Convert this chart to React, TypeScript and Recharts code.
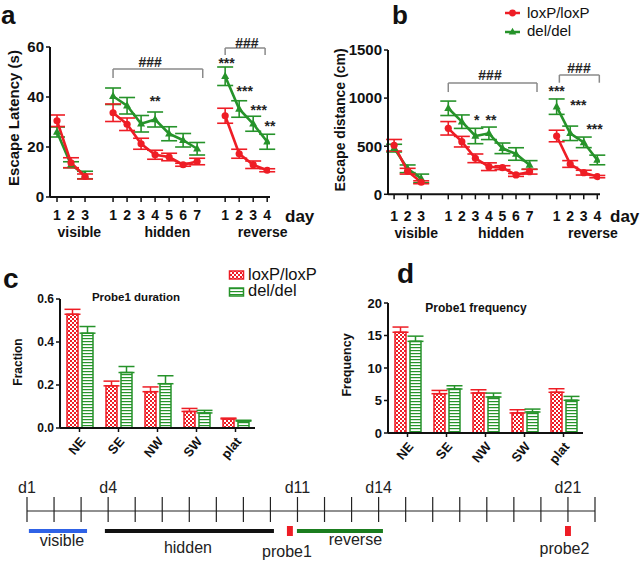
import React from 'react';
import {
  LineChart, Line, BarChart, Bar, ComposedChart, XAxis, YAxis, ErrorBar,
  ReferenceLine, ReferenceDot, ReferenceArea,
} from 'recharts';

const RED = '#ee1d25';
const GREEN = '#26932a';
const INK = '#111';
const GREY = '#8a8a8a';
const FONT = 'Arial, "Liberation Sans", Helvetica, sans-serif';

// water maze phases
const phaseNames = ['visible', 'hidden', 'reverse'];
const phaseDays = [3, 7, 4];

// a: escape latency (s), mean and sem per day
const latencyLox = [30.5, 13.7, 8.2, 33.7, 29.1, 21.3, 16.9, 16, 12.9, 14.2, 32.5, 17.3, 12.9, 10.7];
const latencyLoxSem = [2.3, 2, 1, 3.5, 2.5, 2.2, 1.8, 1.5, 0.6, 1.3, 3, 1.8, 1.5, 0.6];
const latencyDel = [26, 12.9, 8.8, 40.3, 36.5, 29.3, 31, 25.3, 22.7, 19.3, 48.3, 35.2, 29.3, 22.1];
const latencyDelSem = [2, 1.2, 1.5, 3.3, 3.3, 3.3, 3, 2.8, 2.7, 2.5, 3.7, 3.3, 3, 3];

// b: escape distance (cm)
const distanceLox = [510, 240, 125, 686, 547, 374, 287, 277, 201, 235, 606, 315, 225, 184];
const distanceLoxSem = [60, 30, 15, 70, 55, 45, 40, 20, 15, 25, 60, 35, 25, 12];
const distanceDel = [480, 265, 165, 894, 755, 606, 634, 478, 419, 305, 911, 634, 540, 357];
const distanceDelSem = [40, 40, 45, 75, 70, 80, 65, 55, 65, 45, 80, 75, 55, 50];

// c, d: probe 1 by quadrant
const zones = ['NE', 'SE', 'NW', 'SW', 'plat'];
const durationLox = [0.529, 0.196, 0.169, 0.077, 0.042];
const durationLoxSem = [0.023, 0.022, 0.022, 0.014, 0.004];
const durationDel = [0.441, 0.258, 0.206, 0.07, 0.032];
const durationDelSem = [0.031, 0.028, 0.037, 0.012, 0.004];
const frequencyLox = [15.5, 6.05, 6.15, 3.08, 6.26];
const frequencyLoxSem = [0.8, 0.5, 0.5, 0.5, 0.55];
const frequencyDel = [14.1, 6.77, 5.54, 3.23, 5.03];
const frequencyDelSem = [0.8, 0.5, 0.6, 0.45, 0.6];

// schedule
const timelineDays = [1, 2, 3, 4, 5, 6, 7, 8, 9, 10, 11, 12, 13, 14, 15, 16, 17, 18, 19, 20, 21, 22];
const timelineMarked = [1, 4, 11, 14, 21];
const schedulePhases = [
  { name: 'visible', from: 1.07, to: 3.22 },
  { name: 'hidden', from: 3.88, to: 10.13 },
  { name: 'reverse', from: 10.98, to: 14.16 },
];
const probeDays = [{ name: 'probe1', day: 10.72 }, { name: 'probe2', day: 21 }];

const phaseColor: Record<string, string> = { visible: '#2f62e6', hidden: '#111', reverse: '#1b7d1f' };
const labelAt: Record<string, [number, number]> = {
  visible: [2.29, -2.98], hidden: [6.95, -3.63], reverse: [13.14, -2.88],
  probe1: [10.61, -4.03], probe2: [20.87, -3.78],
};

type Row = { x: number; phase: number; day: number | null; lox: number | null; loxErr: number | null; del: number | null; delErr: number | null };

function buildRows(lox: number[], loxErr: number[], del: number[], delErr: number[]): Row[] {
  const rows: Row[] = [];
  let x = 1;
  let i = 0;
  phaseDays.forEach((n, p) => {
    if (p > 0) {
      rows.push({ x, phase: -1, day: null, lox: null, loxErr: null, del: null, delErr: null });
      x += 1;
    }
    for (let d = 1; d <= n; d++) {
      rows.push({ x, phase: p, day: d, lox: lox[i], loxErr: loxErr[i], del: del[i], delErr: delErr[i] });
      x += 1;
      i += 1;
    }
  });
  return rows;
}

const textShape = (value: string, size: number, lift = 0.355, weight: any = 'normal', fill = INK) => (p: any) => (
  <text x={p.cx} y={p.cy} dy={size * lift} textAnchor="middle" fontSize={size} fontWeight={weight} fill={fill}>
    {value}
  </text>
);

const circleDot = (p: any) =>
  p.cy == null || p.value == null ? <g key={`c${p.index}`} /> : <circle key={`c${p.index}`} cx={p.cx} cy={p.cy} r={3.6} fill={RED} />;

const triangleDot = (p: any) =>
  p.cy == null || p.value == null ? (
    <g key={`t${p.index}`} />
  ) : (
    <path key={`t${p.index}`} d={`M${p.cx},${p.cy - 4.5}L${p.cx + 4},${p.cy + 2.8}L${p.cx - 4},${p.cy + 2.8}Z`} fill={GREEN} />
  );

type Bracket = { x1: number; x2: number; y: number; drop: number; lx: number; ly: number };
type Star = { x: number; y: number; text: string };

const axisStyle = { stroke: INK, strokeWidth: 2 };
const tickStyle = { stroke: INK, strokeWidth: 1.5 };

function LinePanel(props: {
  rows: Row[]; yMax: number; yTicks: number[]; yWidth: number; margin: any; xDomain: [number, number];
  tickGap: number; brackets: Bracket[]; stars: Star[];
}) {
  const { rows, yMax, yTicks, yWidth, margin, xDomain, tickGap, brackets, stars } = props;
  const ticks = rows.filter((r) => r.day != null).map((r) => r.x);
  const dayAt: Record<number, number | null> = {};
  rows.forEach((r) => { dayAt[r.x] = r.day; });
  const groupAt = phaseNames.map((_, p) => {
    const xs = rows.filter((r) => r.phase === p).map((r) => r.x);
    return (xs[0] + xs[xs.length - 1]) / 2;
  });
  return (
    <LineChart width={320} height={250} data={rows} margin={margin}>
      <XAxis
        dataKey="x" type="number" domain={xDomain} allowDataOverflow ticks={ticks} interval={0}
        tickFormatter={(v) => String(dayAt[v] ?? '')} height={22} tickSize={5} tickMargin={tickGap}
        axisLine={axisStyle} tickLine={tickStyle} tick={{ fill: INK, fontSize: 14, fontWeight: 700 }}
      />
      <XAxis
        xAxisId="phase" type="number" domain={xDomain} allowDataOverflow ticks={groupAt} interval={0}
        tickFormatter={(v) => phaseNames[groupAt.indexOf(v)] ?? ''} height={20} tickSize={0} tickMargin={tickGap}
        axisLine={false} tickLine={false} tick={{ fill: INK, fontSize: 14, fontWeight: 700 }}
      />
      <YAxis
        type="number" domain={[0, yMax]} allowDataOverflow ticks={yTicks} interval={0} width={yWidth}
        tickSize={4} tickMargin={2} axisLine={axisStyle} tickLine={tickStyle}
        tick={{ fill: INK, fontSize: 15, fontWeight: 700 }}
      />
      {brackets.map((b, k) => (
        <React.Fragment key={`b${k}`}>
          <ReferenceLine segment={[{ x: b.x1, y: b.y }, { x: b.x2, y: b.y }]} stroke={GREY} strokeWidth={1.5} ifOverflow="visible" />
          <ReferenceLine segment={[{ x: b.x1, y: b.y }, { x: b.x1, y: b.drop }]} stroke={GREY} strokeWidth={1.5} ifOverflow="visible" />
          <ReferenceLine segment={[{ x: b.x2, y: b.y }, { x: b.x2, y: b.drop }]} stroke={GREY} strokeWidth={1.5} ifOverflow="visible" />
          <ReferenceDot x={b.lx} y={b.ly} r={0} ifOverflow="visible" shape={textShape('###', 14, 0.36, 700, '#222')} />
        </React.Fragment>
      ))}
      {stars.map((s, k) => (
        <ReferenceDot key={`s${k}`} x={s.x} y={s.y} r={0} ifOverflow="visible" shape={textShape(s.text, 14, 0.58, 700, '#222')} />
      ))}
      <Line dataKey="del" stroke={GREEN} strokeWidth={2.6} dot={triangleDot} activeDot={false} connectNulls={false} isAnimationActive={false}>
        <ErrorBar dataKey="delErr" width={8} stroke={GREEN} strokeWidth={1.6} direction="y" isAnimationActive={false} />
      </Line>
      <Line dataKey="lox" stroke={RED} strokeWidth={2.6} dot={circleDot} activeDot={false} connectNulls={false} isAnimationActive={false}>
        <ErrorBar dataKey="loxErr" width={8} stroke={RED} strokeWidth={1.6} direction="y" isAnimationActive={false} />
      </Line>
    </LineChart>
  );
}

const ZoneTick = (p: any) => (
  <g transform={`translate(${p.x + 3},${p.y + 5})`}>
    <text transform="rotate(-50)" textAnchor="end" dy="0.35em" fontSize={13} fontWeight={700} fill={INK}>
      {p.payload.value}
    </text>
  </g>
);

function BarPanel(props: {
  id: string; lox: number[]; loxErr: number[]; del: number[]; delErr: number[];
  yMax: number; yTicks: number[]; yFmt: (v: number) => string; yWidth: number; margin: any; xHeight: number; yFont: number;
}) {
  const { id, lox, loxErr, del, delErr, yMax, yTicks, yFmt, yWidth, margin, xHeight, yFont } = props;
  const rows = zones.map((z, i) => ({ zone: z, lox: lox[i], loxErr: [0, loxErr[i]], del: del[i], delErr: [0, delErr[i]] }));
  return (
    <BarChart width={320} height={190} data={rows} margin={margin} barSize={11} barGap={4}>
      <defs>
        <pattern id={`chk-${id}`} width={4} height={4} patternUnits="userSpaceOnUse">
          <rect width={4} height={4} fill="#fff" />
          <rect width={2} height={2} fill={RED} />
          <rect x={2} y={2} width={2} height={2} fill={RED} />
        </pattern>
        <pattern id={`str-${id}`} width={4} height={3} patternUnits="userSpaceOnUse">
          <rect width={4} height={3} fill="#fff" />
          <rect width={4} height={1.2} fill={GREEN} />
        </pattern>
      </defs>
      <XAxis dataKey="zone" interval={0} height={xHeight} tickSize={4} axisLine={axisStyle} tickLine={tickStyle} tick={<ZoneTick />} />
      <YAxis
        type="number" domain={[0, yMax]} ticks={yTicks} interval={0} width={yWidth} tickFormatter={yFmt}
        tickSize={4} tickMargin={2} axisLine={axisStyle} tickLine={tickStyle}
        tick={{ fill: INK, fontSize: yFont, fontWeight: 700 }}
      />
      <Bar dataKey="lox" fill={`url(#chk-${id})`} stroke={RED} strokeWidth={1.5} isAnimationActive={false}>
        <ErrorBar dataKey="loxErr" width={8} stroke={RED} strokeWidth={1.5} direction="y" isAnimationActive={false} />
      </Bar>
      <Bar dataKey="del" fill={`url(#str-${id})`} stroke={GREEN} strokeWidth={1.5} isAnimationActive={false}>
        <ErrorBar dataKey="delErr" width={8} stroke={GREEN} strokeWidth={1.5} direction="y" isAnimationActive={false} />
      </Bar>
    </BarChart>
  );
}

function Timeline() {
  return (
    <ComposedChart width={640} height={81} data={timelineDays.map((d) => ({ day: d }))} margin={{ top: 0, right: 45, bottom: 0, left: 27 }}>
      <XAxis dataKey="day" type="number" domain={[1, 22]} allowDataOverflow hide />
      <YAxis type="number" domain={[-5, 3.1]} allowDataOverflow hide />
      <ReferenceLine y={0} stroke="#222" strokeWidth={1.2} />
      {timelineDays.map((d) => (
        <ReferenceLine key={`t${d}`} segment={[{ x: d, y: 1.4 }, { x: d, y: -1.1 }]} stroke="#222" strokeWidth={1.2} />
      ))}
      {timelineMarked.map((d) => (
        <ReferenceDot key={`m${d}`} x={d} y={2.4} r={0} shape={textShape(`d${d}`, 16, 0.355, 'normal', '#222')} />
      ))}
      {schedulePhases.map((p) => (
        <ReferenceLine key={p.name} segment={[{ x: p.from, y: -2 }, { x: p.to, y: -2 }]} stroke={phaseColor[p.name]} strokeWidth={4} />
      ))}
      {probeDays.map((p) => (
        <ReferenceArea key={p.name} x1={p.day - 0.11} x2={p.day + 0.11} y1={-1.5} y2={-2.5} fill={RED} fillOpacity={1} stroke="none" />
      ))}
      {[...schedulePhases.map((p) => p.name), ...probeDays.map((p) => p.name)].map((n) => (
        <ReferenceDot key={`l${n}`} x={labelAt[n][0]} y={labelAt[n][1]} r={0} ifOverflow="visible" shape={textShape(n, 16, 0.355, 'normal', '#222')} />
      ))}
    </ComposedChart>
  );
}

export default function App() {
  const latencyRows = buildRows(latencyLox, latencyLoxSem, latencyDel, latencyDelSem);
  const distanceRows = buildRows(distanceLox, distanceLoxSem, distanceDel, distanceDelSem);
  return (
    <div style={{ position: 'absolute', left: 0, top: 0, width: 640, height: 561, background: '#fff', fontFamily: FONT, overflow: 'hidden' }}>
      <div style={{ position: 'absolute', left: 0, top: 0 }}>
        <LinePanel
          rows={latencyRows} yMax={60} yTicks={[0, 20, 40, 60]} yWidth={50} xDomain={[0.5, 16.2]} tickGap={8}
          margin={{ top: 47, right: 50, bottom: 11, left: 0 }}
          brackets={[
            { x1: 5, x2: 11.4, y: 51.2, drop: 47.6, lx: 7.65, ly: 54.1 },
            { x1: 13, x2: 15.85, y: 59.6, drop: 56.8, lx: 14.55, ly: 61.5 },
          ]}
          stars={[
            { x: 8, y: 39.6, text: '**' },
            { x: 13.1, y: 54.8, text: '***' },
            { x: 14.4, y: 43.6, text: '***' },
            { x: 15.4, y: 36, text: '***' },
            { x: 16.2, y: 29.6, text: '**' },
          ]}
        />
      </div>
      <div style={{ position: 'absolute', left: 320, top: 0 }}>
        <LinePanel
          rows={distanceRows} yMax={1500} yTicks={[0, 500, 1000, 1500]} yWidth={68} xDomain={[0.55, 16.2]} tickGap={11.5}
          margin={{ top: 50, right: 40, bottom: 13.7, left: 0 }}
          brackets={[
            { x1: 5, x2: 11.55, y: 1157, drop: 1063, lx: 8.08, ly: 1240 },
            { x1: 13.2, x2: 16.15, y: 1240, drop: 1160, lx: 14.65, ly: 1310 },
          ]}
          stars={[
            { x: 13.0, y: 1102, text: '***' },
            { x: 7.1, y: 807, text: '*' },
            { x: 8.15, y: 807, text: '**' },
            { x: 14.6, y: 963, text: '***' },
            { x: 15.8, y: 710, text: '***' },
          ]}
        />
      </div>
      <div style={{ position: 'absolute', left: 0, top: 290 }}>
        <BarPanel
          id="dur" lox={durationLox} loxErr={durationLoxSem} del={durationDel} delErr={durationDelSem}
          yMax={0.6} yTicks={[0, 0.2, 0.4, 0.6]} yFmt={(v) => v.toFixed(1)} yWidth={60} yFont={12}
          margin={{ top: 9, right: 65, bottom: 0, left: 0 }} xHeight={52}
        />
      </div>
      <div style={{ position: 'absolute', left: 320, top: 290 }}>
        <BarPanel
          id="freq" lox={frequencyLox} loxErr={frequencyLoxSem} del={frequencyDel} delErr={frequencyDelSem}
          yMax={20} yTicks={[0, 5, 10, 15, 20]} yFmt={(v) => String(v)} yWidth={68} yFont={13}
          margin={{ top: 13, right: 57, bottom: 0, left: 0 }} xHeight={47}
        />
      </div>
      <div style={{ position: 'absolute', left: 0, top: 480 }}>
        <Timeline />
      </div>
      <svg width={640} height={561} style={{ position: 'absolute', left: 0, top: 0, pointerEvents: 'none' }} fontFamily={FONT} fill={INK}>
        <defs>
          <pattern id="lg-chk" width={4} height={4} patternUnits="userSpaceOnUse">
            <rect width={4} height={4} fill="#fff" />
            <rect width={2} height={2} fill={RED} />
            <rect x={2} y={2} width={2} height={2} fill={RED} />
          </pattern>
          <pattern id="lg-str" width={4} height={3} patternUnits="userSpaceOnUse">
            <rect width={4} height={3} fill="#fff" />
            <rect width={4} height={1.2} fill={GREEN} />
          </pattern>
        </defs>
        <text x={1} y={24} fontSize={26} fontWeight={700}>a</text>
        <text x={392} y={24} fontSize={26} fontWeight={700}>b</text>
        <text x={3} y={288} fontSize={28} fontWeight={700}>c</text>
        <text x={397} y={283} fontSize={28} fontWeight={700}>d</text>

        <text transform="translate(18.5,118) rotate(-90)" textAnchor="middle" fontSize={15} fontWeight={700}>Escape Latency (s)</text>
        <text transform="translate(345,120) rotate(-90)" textAnchor="middle" fontSize={14} fontWeight={700}>Escape distance (cm)</text>
        <text transform="translate(22,362) rotate(-90)" textAnchor="middle" fontSize={12} fontWeight={700}>Fraction</text>
        <text transform="translate(351,365) rotate(-90)" textAnchor="middle" fontSize={12.5} fontWeight={700}>Frequency</text>

        <text x={136} y={301} textAnchor="middle" fontSize={11.5} fontWeight={700}>Probe1 duration</text>
        <text x={476} y={312} textAnchor="middle" fontSize={12} fontWeight={700}>Probe1 frequency</text>

        <text x={285} y={222} fontSize={17} fontWeight={700}>day</text>
        <text x={610} y={222} fontSize={17} fontWeight={700}>day</text>

        <line x1={505} y1={13} x2={520} y2={13} stroke={RED} strokeWidth={2.5} />
        <circle cx={512.5} cy={13} r={3.4} fill={RED} />
        <text x={527} y={18.3} fontSize={15}>loxP/loxP</text>
        <line x1={505} y1={32} x2={520} y2={32} stroke={GREEN} strokeWidth={2.5} />
        <path d="M512.5,27.8L516.3,34.5L508.7,34.5Z" fill={GREEN} />
        <text x={527} y={36} fontSize={15}>del/del</text>

        <rect x={229.5} y={271} width={14} height={8} fill="url(#lg-chk)" stroke={RED} strokeWidth={1.5} />
        <text x={248} y={279.5} fontSize={16.5}>loxP/loxP</text>
        <rect x={229.5} y={288} width={14} height={8} fill="url(#lg-str)" stroke={GREEN} strokeWidth={1.5} />
        <text x={248} y={296} fontSize={16.5}>del/del</text>
      </svg>
    </div>
  );
}
